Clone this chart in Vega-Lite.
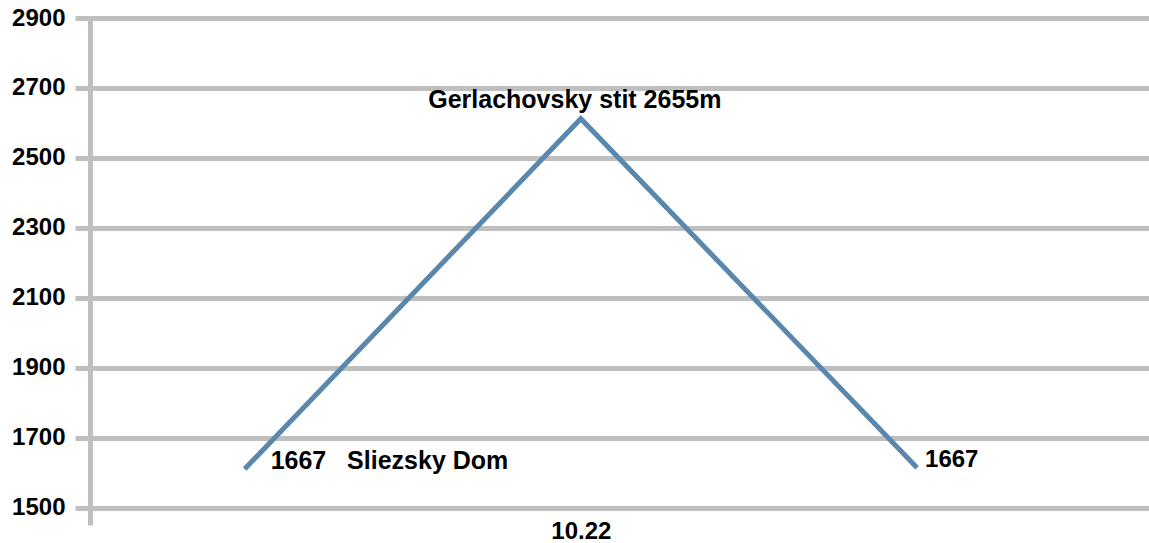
{
  "$schema": "https://vega.github.io/schema/vega-lite/v6.json",
  "width": 1059,
  "height": 507,
  "autosize": {"type": "none"},
  "padding": {"left": 90, "top": 18, "right": 0, "bottom": 18},
  "background": "white",
  "config": {"view": {"stroke": null}, "font": "Liberation Sans"},
  "data": {"values": [
    {"x": 1, "elev": 1610, "label": "1667\u00a0\u00a0\u00a0Sliezsky Dom", "pos": "left"},
    {"x": 2, "elev": 2612, "label": "Gerlachovsky stit 2655m", "pos": "top"},
    {"x": 3, "elev": 1614, "label": "1667", "pos": "right"}
  ]},
  "encoding": {
    "x": {"field": "x", "type": "quantitative", "scale": {"domain": [0.54, 3.69], "nice": false, "zero": false},
      "axis": {"values": [2], "labelExpr": "'10.22'", "title": null, "grid": false, "ticks": false, "domain": false,
        "labelFontSize": 24, "labelFontWeight": "bold", "labelColor": "#000000", "labelPadding": -6, "labelFont": "Liberation Sans"}},
    "y": {"field": "elev", "type": "quantitative", "scale": {"domain": [1450, 2900], "nice": false, "zero": false},
      "axis": {"values": [1500, 1700, 1900, 2100, 2300, 2500, 2700, 2900], "format": "d", "title": null,
        "grid": true, "gridColor": "#bfbfbf", "gridWidth": 5, "gridOpacity": 1,
        "ticks": true, "tickSize": 15, "tickColor": "#bfbfbf", "tickWidth": 5,
        "domain": true, "domainColor": "#bfbfbf", "domainWidth": 5,
        "labelFontSize": 24, "labelFontWeight": "bold", "labelColor": "#000000", "labelPadding": 10, "labelFont": "Liberation Sans"}}
  },
  "layer": [
    {"mark": {"type": "line", "color": "#5a87ad", "strokeWidth": 5, "strokeCap": "butt"}},
    {"transform": [{"filter": "datum.pos == 'left'"}],
     "mark": {"type": "text", "align": "left", "baseline": "middle", "dx": 26, "dy": -8, "fontSize": 25, "fontWeight": "bold", "color": "#000000"},
     "encoding": {"text": {"field": "label"}}},
    {"transform": [{"filter": "datum.pos == 'right'"}],
     "mark": {"type": "text", "align": "left", "baseline": "middle", "dx": 8, "dy": -8, "fontSize": 24, "fontWeight": "bold", "color": "#000000"},
     "encoding": {"text": {"field": "label"}}},
    {"transform": [{"filter": "datum.pos == 'top'"}],
     "mark": {"type": "text", "align": "center", "baseline": "middle", "dx": -6, "dy": -19, "fontSize": 25, "fontWeight": "bold", "color": "#000000"},
     "encoding": {"text": {"field": "label"}}}
  ]
}
